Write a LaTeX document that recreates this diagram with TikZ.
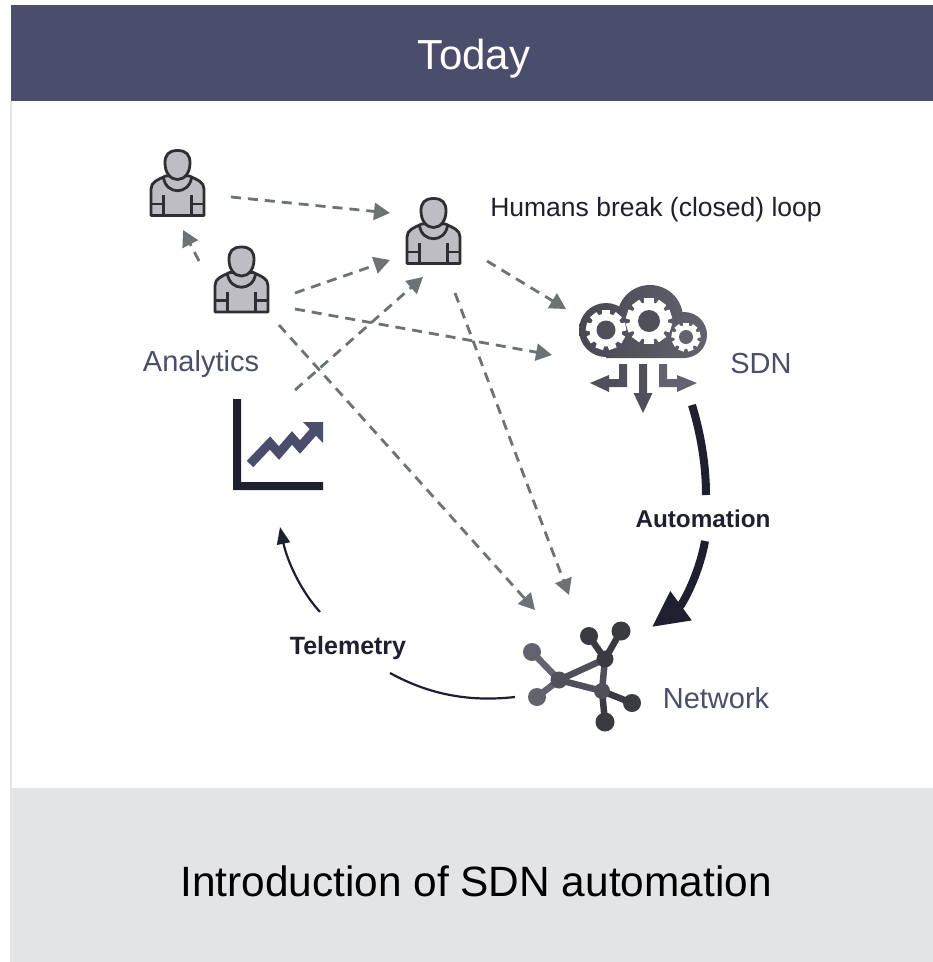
\documentclass[tikz,border=0pt]{standalone}
\usepackage{fontspec}
\setmainfont{Liberation Sans}
\usetikzlibrary{arrows.meta}
\definecolor{navy}{HTML}{4A4D6C}
\definecolor{inkdark}{HTML}{1E2030}
\definecolor{dashgray}{HTML}{6D7274}
\definecolor{bandgray}{HTML}{E3E4E6}
\definecolor{personfill}{HTML}{BDBDC3}
\definecolor{personline}{HTML}{2E2E33}
\definecolor{netL}{HTML}{63636F}
\definecolor{netM}{HTML}{50505A}
\definecolor{netR}{HTML}{3A3A42}
\tikzset{
  flow/.style={draw=dashgray,line width=2.8pt,dash pattern=on 10pt off 7pt,
    -{Triangle[length=16pt,width=17pt,fill=dashgray]}},
  lab/.style={inner sep=0pt,anchor=center},
  person/.pic={
    \begin{scope}[draw=personline,line width=2.8pt,fill=personfill,line join=round]
      \filldraw (-26.5,66.5) -- (-26.5,40) .. controls (-26.5,33) and (-20,31) .. (-12,27)
        -- (12,27) .. controls (20,31) and (26.5,33) .. (26.5,40) -- (26.5,66.5) -- cycle;
      \draw (-14,29) .. controls (-11,46) and (11,46) .. (14,29);
      \draw (-14,46) -- (-14,66.5) (14,46) -- (14,66.5) (-26.5,55) -- (-14,55) (14,55) -- (26.5,55);
      \filldraw (0,1.5) .. controls (9,1.5) and (12.5,6) .. (12.5,14)
        .. controls (12.5,24) and (7,30.5) .. (0,30.5)
        .. controls (-7,30.5) and (-12.5,24) .. (-12.5,14)
        .. controls (-12.5,6) and (-9,1.5) .. (0,1.5) -- cycle;
    \end{scope}
  }
}
\newcommand{\gearicon}[6]{% x y outer hole teeth colour
  \foreach \ang in {1,...,#5}{
    \fill[white,rotate around={\ang*360/#5:(#1,#2)}]
      (#1-#3*0.2,#2) rectangle (#1+#3*0.2,#2-#3);
  }
  \fill[white] (#1,#2) circle ({#3*0.82});
  \fill[#6] (#1,#2) circle (#4);
}
\begin{document}
\begin{tikzpicture}[x=1pt,y=-1pt]
\useasboundingbox (0,0) rectangle (933,962);
% frame
\fill[white] (0,0) rectangle (933,962);
\fill[bandgray] (10,101) rectangle (12,788);
\fill[navy] (11,5) rectangle (933,101);
\fill[bandgray] (10,788) rectangle (933,962);
\node[lab,text=white,font=\fontsize{42}{42}\selectfont] (title) at (474,59) {Today};
\node[lab,text=black,font=\fontsize{42.4}{42}\selectfont] (footer) at (476,881) {Introduction of SDN automation};
\node[lab,text=inkdark,font=\fontsize{26.5}{26}\selectfont] (humans) at (656,210) {Humans break (closed) loop};
\node[lab,text=navy,font=\fontsize{29}{29}\selectfont] (analytics) at (201,364) {Analytics};
\node[lab,text=navy,font=\fontsize{29}{29}\selectfont] (sdnlab) at (761,364) {SDN};
\node[lab,text=navy,font=\fontsize{29}{29}\selectfont] (netlab) at (716,698) {Network};
% people
\pic at (177.5,149) {person};
\pic at (241.5,245.5) {person};
\pic at (433.5,197) {person};
% named connector ends
\coordinate (p1out) at (231,197);
\coordinate (p3in1) at (390,213);
\coordinate (p2up) at (199,261);
\coordinate (p1in) at (183,230);
\coordinate (p2outa) at (295,293);
\coordinate (p3in2) at (390,260);
\coordinate (chartout) at (295,390);
\coordinate (p3in3) at (423,277);
\coordinate (p2outb) at (295,309);
\coordinate (sdnin1) at (552,355);
\coordinate (p2outc) at (279,325);
\coordinate (netin1) at (535,610);
\coordinate (p3outa) at (455,293);
\coordinate (netin2) at (569,595);
\coordinate (p3outb) at (487,261);
\coordinate (sdnin2) at (566,309);
\draw[flow] (p1out) -- (p3in1);
\draw[flow] (p2up) -- (p1in);
\draw[flow] (p2outa) -- (p3in2);
\draw[flow] (chartout) -- (p3in3);
\draw[flow] (p2outb) -- (sdnin1);
\draw[flow] (p2outc) -- (netin1);
\draw[flow] (p3outa) -- (netin2);
\draw[flow] (p3outb) -- (sdnin2);
% SDN cloud
\shade[left color=netM!90!black,right color=netL]
  (606,330) circle (27) (650,318) circle (33) (684,335) circle (23)
  (684,330) rectangle (606,358);
\gearicon{606}{330}{20}{9.5}{9}{netM}
\gearicon{649}{321}{23}{11}{10}{netM}
\gearicon{686}{337}{14.5}{7}{9}{netL}
\fill[netM] (639,364) -- (647,364) -- (647,393) -- (652.5,393) -- (643,413) -- (633.5,393) -- (639,393) -- cycle;
\fill[netM] (619,364) -- (627,364) -- (627,387) -- (609,387) -- (609,392) -- (590,383) -- (609,375) -- (609,379) -- (619,379) -- cycle;
\fill[netL] (667,364) -- (659,364) -- (659,387) -- (677,387) -- (677,392) -- (697,383) -- (677,375) -- (677,379) -- (667,379) -- cycle;
% chart
\fill[inkdark] (233,399) rectangle (241,490) (233,482) rectangle (323,490);
\draw[navy,line width=9pt,line join=miter]
  (250,464) -- (270,443) -- (279,453) -- (292,438) -- (300,447) -- (315,430);
\fill[navy] (303,422) -- (323,422) -- (323,443) -- cycle;
% network
\begin{scope}[line width=6.5pt]
  \coordinate (n1) at (532,652);
  \coordinate (n2) at (537,697);
  \coordinate (hub) at (559,680);
  \coordinate (n3) at (589,636);
  \coordinate (n4) at (621,631);
  \coordinate (n5) at (605,659);
  \coordinate (n6) at (602,691);
  \coordinate (n7) at (632,703);
  \coordinate (n8) at (605,722);
  \draw[netL] (hub) -- (n1) (hub) -- (n2);
  \draw[netM] (hub) -- (n5) (hub) -- (n6) (n5) -- (n6);
  \draw[netR] (n5) -- (n3) (n5) -- (n4) (n6) -- (n7) (n6) -- (n8);
  \fill[netL] (n1) circle (9) (n2) circle (9);
  \fill[netM] (hub) circle (8.5) (n6) circle (8);
  \fill[netR] (n3) circle (9) (n4) circle (9.5) (n5) circle (8.5) (n7) circle (9) (n8) circle (9.5);
\end{scope}
% automation
\node[lab,text=inkdark,font=\bfseries\fontsize{24.3}{24}\selectfont] (auto) at (703,519) {Automation};
\coordinate (autoa) at (692,405);
\coordinate (autob) at (706,495);
\coordinate (autoc) at (705,541);
\coordinate (autod) at (652,627);
\draw[inkdark,line width=8pt] (autoa) .. controls (701,435) and (706,465) .. (autob);
\draw[inkdark,line width=8pt,-{Triangle[length=36pt,width=34pt,fill=inkdark]}]
  (autoc) .. controls (699,575) and (682,605) .. (autod);
% telemetry
\node[lab,text=inkdark,font=\bfseries\fontsize{25}{25}\selectfont] (tele) at (348,648) {Telemetry};
\coordinate (telea) at (515,697);
\coordinate (teleb) at (390,673);
\coordinate (telec) at (320,612);
\coordinate (teled) at (280,527);
\draw[inkdark,line width=2.2pt] (telea) .. controls (470,702) and (430,695) .. (teleb);
\draw[inkdark,line width=2.2pt,-{Triangle[length=17pt,width=13pt,fill=inkdark]}]
  (telec) .. controls (300,590) and (287,560) .. (teled);
\end{tikzpicture}
\end{document}
